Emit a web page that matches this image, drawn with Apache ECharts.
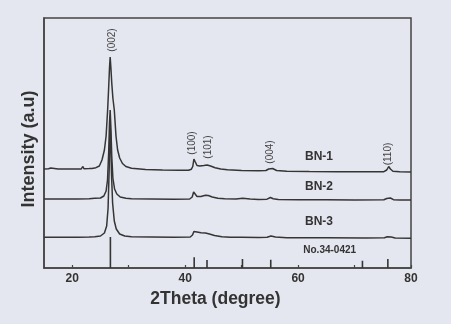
<!DOCTYPE html>
<html><head><meta charset="utf-8">
<script src="https://cdn.jsdelivr.net/npm/echarts@6/dist/echarts.min.js"></script>
<style>html,body{margin:0;padding:0;background:#e4e7ef}#c{width:451px;height:324px}</style>
</head><body><div id="c"></div>
<script>
// y values are arbitrary intensity units (offset stacked traces)
const bn1 = [[15,99],[15.8,99.3],[16.2,100],[16.5,99.3],[17.5,99],[19,99],[20.5,99],[21.6,99],[21.85,101.5],[22.1,99.2],[23,99.4],[23.5,99.6],[24.2,100.3],[24.8,102],[25.27,108],[25.7,118],[26.0,132],[26.27,158],[26.45,180],[26.6,200],[26.72,211],[26.85,200],[27.0,185],[27.2,170],[27.45,158],[27.75,132],[28.04,118],[28.4,110],[28.9,104.5],[29.5,101.5],[30.5,99.8],[33,98.5],[36,98],[39,97.8],[40.6,97.8],[41.1,98.8],[41.35,101.5],[41.55,109],[41.65,111],[41.8,106],[42.1,102.5],[42.6,102],[43.3,102.5],[43.9,103],[44.5,102],[45.3,100.3],[46.3,99],[47.5,98.2],[50,97.6],[53,97.3],[54.3,97.5],[54.8,99],[55.15,100.8],[55.5,99.5],[56.2,97.5],[58,96.8],[62,96.5],[67,96.3],[72,96.2],[75.2,96.3],[75.7,98],[76.05,101.5],[76.35,99],[76.8,96.8],[78,96.2],[80,96]];
const bn2 = [[15,69],[18,69],[21,69],[23,69.3],[24,69.7],[25,70],[25.6,72],[26.0,77],[26.25,88],[26.45,115],[26.6,145],[26.72,158],[26.85,140],[27.0,112],[27.2,90],[27.5,79],[27.9,74],[28.5,71],[29.5,69.8],[30.5,69.2],[34,69],[38,68.8],[40.8,69],[41.25,71],[41.5,76],[41.62,78],[41.8,74],[42.1,71.5],[42.8,71.5],[43.6,72.8],[44.1,72.5],[44.8,71],[45.8,69.8],[47,69.3],[49,69],[50.2,69.8],[51.5,69],[53,68.6],[54.5,68.8],[55.1,70.5],[55.6,69.2],[56.5,68.5],[60,68.3],[65,68.2],[70,68.1],[75.2,68.2],[75.7,69.5],[76.05,71.3],[76.35,70],[76.9,68.3],[78,68.1],[80,68]];
const bn3 = [[15,30.8],[18,30.8],[21,30.8],[23,31],[24,31.3],[25,32],[25.7,35],[26.1,42],[26.35,60],[26.55,100],[26.7,145],[26.8,132],[26.95,95],[27.15,65],[27.45,47],[27.8,39],[28.4,34],[29.3,32],[30.5,31.2],[34,31],[38,30.8],[40.9,31],[41.3,33],[41.55,36.5],[41.75,37.3],[42.1,36],[42.8,35.3],[43.6,35],[44.3,34],[45.2,32.5],[46.5,31.3],[48,30.8],[50,30.8],[53,30.5],[54.5,30.8],[55.2,32],[56,31],[58,30.3],[65,30.2],[72,30],[75.3,30.2],[75.8,31.3],[76.1,32],[76.5,31],[77.2,30],[80,29.8]];
const sticks = [[26.76,31],[41.6,10.7],[43.87,8],[50.15,9],[55.16,8.3],[71.4,7.3],[75.9,9]];
const xTicks = [20,30,40,50,60,70,80];
const xLabels = [20,40,60,80];
const peakLabels = [['(002)',27.1,228],['(100)',41.3,125],['(101)',44.1,121],['(004)',55.15,116],['(110)',75.9,114]];
const sampleLabels = [['BN-1',63.7,111.5],['BN-2',63.7,81],['BN-3',63.7,46]];
const refLabel = ['No.34-0421',65.6,18];

const chart = echarts.init(document.getElementById('c'));
const lineColor = '#353535';
const font = 'Liberation Sans, Arial, sans-serif';
const mk = (d) => ({type:'line', data:d, symbol:'none', smooth:false, animation:false,
  lineStyle:{color:lineColor, width:1.5}, z:3});
const series = [mk(bn1), mk(bn2), mk(bn3)];
sticks.forEach(s => series.push({type:'line', data:[[s[0],0],[s[0],s[1]]], symbol:'none', animation:false,
  lineStyle:{color:lineColor, width:1.6}, z:3}));
chart.setOption({
  backgroundColor:'#e4e7ef',
  animation:false,
  grid:{left:44, right:40, top:18, bottom:56, show:true, borderColor:'#444', borderWidth:1.5, backgroundColor:'transparent'},
  xAxis:{type:'value', min:15, max:80,
    axisLine:{show:true, onZero:false, lineStyle:{color:'#444', width:1.5}},
    axisTick:{show:true, inside:true, length:3, customValues:xTicks, lineStyle:{color:'#444', width:1.2}},
    axisLabel:{customValues:xLabels, color:'#333', fontSize:12, fontWeight:'bold', fontFamily:font, margin:5},
    splitLine:{show:false},
    name:'2Theta (degree)', nameLocation:'middle', nameGap:21,
    nameTextStyle:{color:'#333', fontSize:17.5, fontWeight:'bold', fontFamily:font, padding:[0,24,0,0]}
  },
  yAxis:{type:'value', min:0, max:250,
    axisLine:{show:true, lineStyle:{color:'#444', width:1.5}},
    axisTick:{show:false}, axisLabel:{show:false}, splitLine:{show:false},
    name:'Intensity (a.u)', nameLocation:'middle', nameGap:6,
    nameTextStyle:{color:'#333', fontSize:18, fontWeight:'bold', fontFamily:font, padding:[0,12,0,0]}
  },
  series
});
const g = [];
peakLabels.forEach(p => {
  const [px,py] = chart.convertToPixel({gridIndex:0}, [p[1],p[2]]);
  g.push({type:'text', x:px, y:py, rotation:Math.PI/2, style:{text:p[0], fill:'#444', fontSize:10, fontFamily:font, align:'center', verticalAlign:'middle'}, z:10});
});
sampleLabels.forEach(p => {
  const [px,py] = chart.convertToPixel({gridIndex:0}, [p[1],p[2]]);
  g.push({type:'text', x:px, y:py, style:{text:p[0], fill:'#333', fontSize:12, fontWeight:'bold', fontFamily:font, align:'center', verticalAlign:'middle'}, z:10});
});
{
  const [px,py] = chart.convertToPixel({gridIndex:0}, [refLabel[1],refLabel[2]]);
  g.push({type:'text', x:px, y:py, style:{text:refLabel[0], fill:'#333', fontSize:10, fontWeight:'bold', fontFamily:font, align:'center', verticalAlign:'middle'}, z:10});
}
chart.setOption({graphic:g});
</script></body></html>
